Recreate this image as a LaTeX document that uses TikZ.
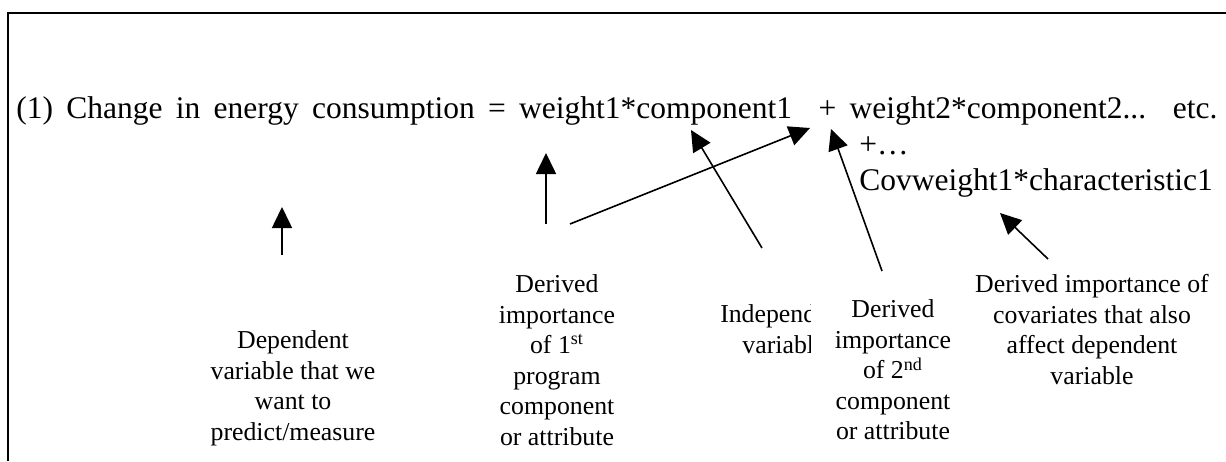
\documentclass[tikz,border=0pt]{standalone}
\usepackage{fontspec}
\setmainfont{Liberation Serif}
\usetikzlibrary{arrows.meta}
\begin{document}
\begin{tikzpicture}[x=0.5pt,y=-0.5pt,
  eq/.style={anchor=base west,inner sep=0pt,font=\fontsize{15.75}{18}\selectfont},
  lbl/.style={anchor=north,inner sep=0pt,align=center,font=\fontsize{12.9}{15.25}\selectfont},
  arr/.style={line width=0.8pt,-{Triangle[length=10.5pt,width=10pt]}},
  frame/.style={line width=1.2pt}]
\useasboundingbox (0,0) rectangle (1226,461);
% frame
\coordinate (fl) at (8,461);
\coordinate (fc) at (8,13);
\coordinate (fr) at (1226,13);
\draw[frame] (fl) -- (fc) -- (fr);
% main equation line (justified)
\node[eq] (m1) at (16,118) {\makebox[600.5pt][s]{(1) Change in energy consumption = weight1*component1\ \ + weight2*component2... etc.}};
\node[eq] (p1) at (859,154) {+…};
\node[eq] (c1) at (859,190) {Covweight1*characteristic1};
% labels
\node[lbl] (L0) at (293,330.4) {Dependent\\variable that we\\want to\\predict/measure};
\node[lbl] (L1) at (557,274.4) {Derived\\importance\\of 1\textsuperscript{st}\\program\\component\\or attribute};
\begin{scope}
\clip (650,250) rectangle (810,461);
\node[lbl] (L2) at (784,304.4) {Independent\\variable};
\end{scope}
\node[lbl] (L3) at (893,299.4) {Derived\\importance\\of 2\textsuperscript{nd}\\component\\or attribute};
\node[lbl] (L4) at (1092,274.4) {Derived importance of\\covariates that also\\affect dependent\\variable};
% arrow end points
\coordinate (s0) at (282,255); \coordinate (t0) at (282,207);
\coordinate (s1) at (546,224); \coordinate (t1) at (546,153);
\coordinate (s2) at (570,224); \coordinate (t2) at (810,128);
\coordinate (s3) at (762,248); \coordinate (t3) at (691,130);
\coordinate (s4) at (882,271); \coordinate (t4) at (831,129);
\coordinate (s5) at (1048,259); \coordinate (t5) at (1000,213);
\draw[arr] (s0) -- (t0);
\draw[arr] (s1) -- (t1);
\draw[arr] (s2) -- (t2);
\draw[arr] (s3) -- (t3);
\draw[arr] (s4) -- (t4);
\draw[arr] (s5) -- (t5);
\end{tikzpicture}
\end{document}
